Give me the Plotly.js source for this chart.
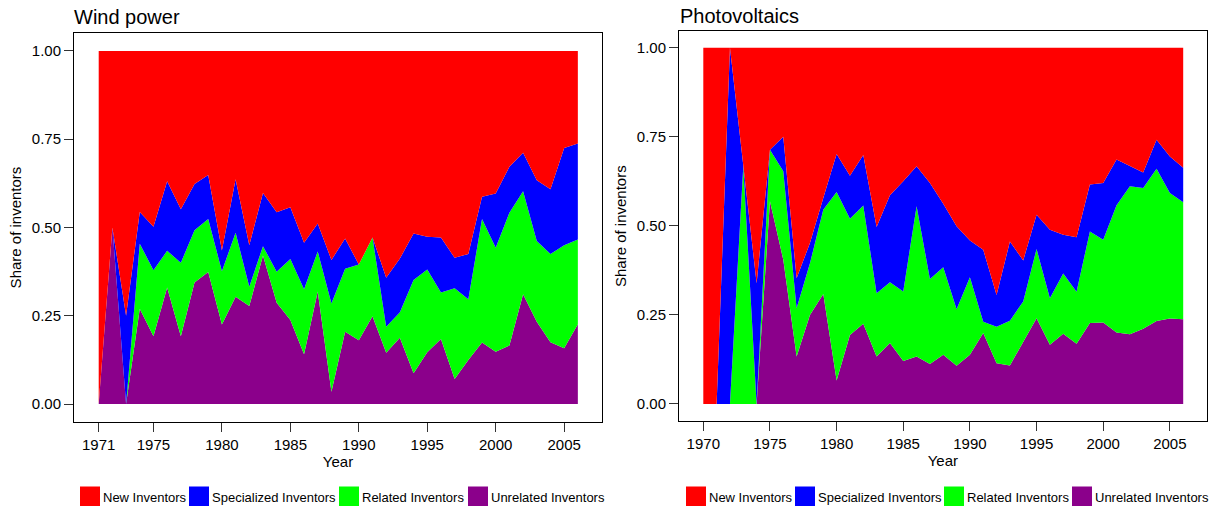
<!DOCTYPE html>
<html><head><meta charset="utf-8">
<script src="https://cdn.plot.ly/plotly-3.0.1.min.js"></script>
<style>html,body{margin:0;padding:0;background:#fff}</style>
</head><body><div id="chart" style="width:1220px;height:506px"></div>
<script>
// ---- Data (shares of inventors per year) ----
const seriesNames = ['Unrelated Inventors', 'Related Inventors', 'Specialized Inventors', 'New Inventors'];
const seriesColors = ['#8B008B', '#00FF00', '#0000FF', '#FF0000'];

const windYears = [1971,1972,1973,1974,1975,1976,1977,1978,1979,1980,1981,1982,1983,1984,1985,1986,1987,1988,1989,1990,1991,1992,1993,1994,1995,1996,1997,1998,1999,2000,2001,2002,2003,2004,2005,2006];
const windUnrelated = [0,.50,0,.27,.192,.33,.192,.344,.374,.225,.304,.278,.421,.287,.238,.141,.319,.035,.205,.181,.249,.145,.188,.087,.147,.184,.071,.125,.174,.148,.166,.311,.233,.175,.158,.226];
const windRelated = [0,0,0,.184,.187,.104,.208,.148,.15,.151,.181,.054,.026,.088,.173,.184,.113,.25,.178,.214,.223,.074,.072,.264,.234,.132,.257,.172,.35,.295,.376,.292,.229,.25,.292,.24];
const windSpecialized = [0,0,.25,.09,.123,.197,.152,.131,.125,.059,.152,.118,.151,.168,.146,.132,.079,.123,.086,0,0,.139,.152,.132,.093,.156,.086,.128,.063,.153,.13,.109,.172,.183,.275,.272];
const windNew = [1,.5,.75,.456,.498,.369,.448,.377,.351,.565,.363,.55,.402,.457,.443,.543,.489,.592,.531,.605,.528,.642,.588,.517,.526,.528,.586,.575,.413,.404,.328,.288,.366,.392,.275,.262];

const pvYears = [1970,1971,1972,1973,1974,1975,1976,1977,1978,1979,1980,1981,1982,1983,1984,1985,1986,1987,1988,1989,1990,1991,1992,1993,1994,1995,1996,1997,1998,1999,2000,2001,2002,2003,2004,2005,2006];
const pvUnrelated = [0,0,0,0,0,.569,.405,.133,.25,.309,.066,.194,.225,.133,.171,.121,.133,.112,.138,.107,.138,.199,.114,.108,.175,.241,.166,.197,.169,.227,.229,.201,.196,.211,.233,.24,.238];
const pvRelated = [0,0,0,.667,0,.145,.248,.136,.145,.236,.529,.326,.332,.178,.171,.195,.422,.239,.246,.159,.218,.032,.103,.126,.113,.194,.131,.169,.146,.257,.232,.357,.415,.395,.427,.352,.328];
const pvSpecialized = [0,0,1,0,.339,0,.097,.084,.057,.033,.107,.121,.142,.186,.244,.309,.112,.269,.178,.233,.103,.202,.089,.222,.115,.096,.192,.109,.153,.132,.159,.128,.058,.044,.082,.103,.097];
const pvNew = [1,1,0,.333,.661,.286,.25,.647,.548,.422,.298,.359,.301,.503,.414,.375,.333,.38,.438,.501,.541,.567,.694,.544,.597,.469,.511,.525,.532,.384,.38,.314,.331,.35,.258,.305,.337];

const windTicks = [1971,1975,1980,1985,1990,1995,2000,2005];
const pvTicks = [1970,1975,1980,1985,1990,1995,2000,2005];
const shareTicks = [0,0.25,0.5,0.75,1];
const panelTitles = ['Wind power', 'Photovoltaics'];
const legendOrder = [3, 2, 1, 0];

// ---- Traces ----
const FONT = 'Liberation Sans, Arial, Helvetica, sans-serif';
const W = 1220, H = 506;
const traces = [];
const legends = {};
// left edge (px) of each legend label, per panel
const legendTextX = [[103, 212, 362, 491], [709, 818, 967, 1095]];
let legendCount = 0;
function addPanel(p, years, series, xa, ya, group) {
  series.forEach((vals, i) => {
    traces.push({
      type: 'scatter', mode: 'lines', x: years, y: vals,
      xaxis: xa, yaxis: ya, stackgroup: group,
      line: {width: 0, color: seriesColors[i]}, fillcolor: seriesColors[i],
      name: seriesNames[i], showlegend: false, hoverinfo: 'skip'
    });
  });
  legendOrder.forEach((i, k) => {
    legendCount += 1;
    const id = legendCount === 1 ? 'legend' : 'legend' + legendCount;
    legends[id] = {
      orientation: 'h', x: (legendTextX[p][k] - 40) / W, xanchor: 'left',
      y: (H - 496.5) / H, yanchor: 'middle',
      font: {family: FONT, size: 13, color: '#000'}, bgcolor: 'rgba(0,0,0,0)',
      borderwidth: 0, itemclick: false, itemdoubleclick: false
    };
    traces.push({
      type: 'scatter', mode: 'markers', x: [null], y: [null],
      xaxis: xa, yaxis: ya, name: seriesNames[i], legend: id,
      marker: {symbol: 'square', size: 16, angle: 90, standoff: 7, color: seriesColors[i],
               line: {width: 4, color: seriesColors[i]}},
      showlegend: true, hoverinfo: 'skip'
    });
  });
}
addPanel(0, windYears, [windUnrelated, windRelated, windSpecialized, windNew], 'x', 'y', 'wind');
addPanel(1, pvYears, [pvUnrelated, pvRelated, pvSpecialized, pvNew], 'x2', 'y2', 'pv');

function axisBase() {
  return {
    showline: true, mirror: true, linecolor: '#000000', linewidth: 1,
    ticks: 'outside', ticklen: 9, tickwidth: 1, tickcolor: '#333333',
    showgrid: false, zeroline: false, fixedrange: true, layer: 'above traces',
    tickfont: {family: FONT, size: 15, color: '#000'},
    title: {font: {family: FONT, size: 15, color: '#000'}}
  };
}
const xaxis = Object.assign(axisBase(), {
  domain: [74 / W, 602 / W], range: [1969.196, 2007.764],
  tickmode: 'array', tickvals: windTicks, ticktext: windTicks.map(String),
  anchor: 'y'
});
xaxis.title.text = 'Year'; xaxis.title.standoff = 2;
const yaxis = Object.assign(axisBase(), {
  domain: [(H - 421.7) / H, (H - 33.3) / H], range: [-0.05, 1.05],
  tickmode: 'array', tickvals: shareTicks, ticktext: shareTicks.map(v => v.toFixed(2)),
  anchor: 'x'
});
yaxis.title.text = 'Share of inventors'; yaxis.title.standoff = 6;
const xaxis2 = Object.assign(axisBase(), {
  domain: [679 / W, 1206.7 / W], range: [1968.177, 2007.763],
  tickmode: 'array', tickvals: pvTicks, ticktext: pvTicks.map(String),
  anchor: 'y2'
});
xaxis2.title.text = 'Year'; xaxis2.title.standoff = 2;
const yaxis2 = Object.assign(axisBase(), {
  domain: [(H - 421.3) / H, (H - 31) / H], range: [-0.0486, 1.047],
  tickmode: 'array', tickvals: shareTicks, ticktext: shareTicks.map(v => v.toFixed(2)),
  anchor: 'x2'
});
yaxis2.title.text = 'Share of inventors'; yaxis2.title.standoff = 6;

const layout = Object.assign({
  width: W, height: H, margin: {l: 0, r: 0, t: 0, b: 0, pad: 0, autoexpand: false},
  paper_bgcolor: '#fff', plot_bgcolor: '#fff',
  font: {family: FONT, color: '#000'},
  xaxis, yaxis, xaxis2, yaxis2,
  annotations: [
    {text: panelTitles[0], xref: 'paper', yref: 'paper', x: 72 / W, y: (H - 16.5) / H,
     xanchor: 'left', yanchor: 'middle', showarrow: false, font: {family: FONT, size: 20, color: '#000'}},
    {text: panelTitles[1], xref: 'paper', yref: 'paper', x: 678 / W, y: (H - 15.5) / H,
     xanchor: 'left', yanchor: 'middle', showarrow: false, font: {family: FONT, size: 20, color: '#000'}}
  ],
  showlegend: true, hovermode: false
}, legends);

Plotly.newPlot('chart', traces, layout, {staticPlot: true, displayModeBar: false});
</script></body></html>
